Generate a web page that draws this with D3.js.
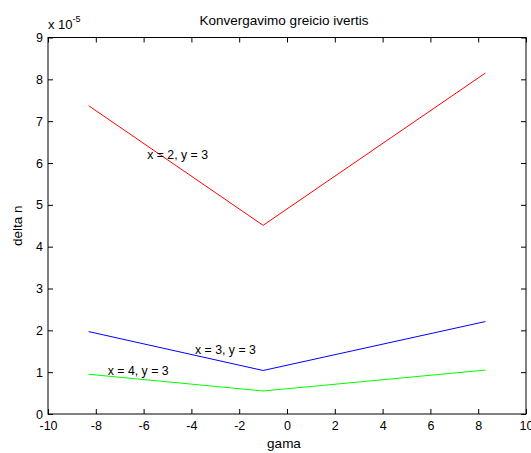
<!DOCTYPE html>
<html>
<head>
<meta charset="utf-8">
<script src="https://cdn.jsdelivr.net/npm/d3@7"></script>
<style>
  html, body { margin: 0; padding: 0; background: #fff; }
  svg { display: block; font-family: "Liberation Sans", Arial, sans-serif; }
</style>
</head>
<body>
<svg id="chart" width="531" height="453"></svg>
<script>
// gamma values and delta n (in units of 1e-5) for each (x, y) pair
const gama = [-8.3, -1.0, 8.3];
const seriesX2 = [7.37, 4.51, 8.15];
const seriesX3 = [1.97, 1.04, 2.21];
const seriesX4 = [0.95, 0.55, 1.05];
const seriesNames = ["x = 2, y = 3", "x = 3, y = 3", "x = 4, y = 3"];
const seriesColors = ["#ff0000", "#0000ff", "#00ff00"];
// label anchor points (gamma, delta n)
const labelX = [-5.85, -3.85, -7.5];
const labelY = [6.2, 1.53, 1.03];
const xTicks = [-10, -8, -6, -4, -2, 0, 2, 4, 6, 8, 10];
const yTicks = [0, 1, 2, 3, 4, 5, 6, 7, 8, 9];

const svg = d3.select("#chart");
const plotLeft = 48, plotRight = 526, plotTop = 37.5, plotBottom = 414;

const x = d3.scaleLinear().domain([-10, 10]).range([plotLeft, plotRight]);
const y = d3.scaleLinear().domain([0, 9]).range([plotBottom, plotTop]);

const tickLen = 5;
const plainNum = d => String(d);

// axes with inward ticks on all four sides
const gx = svg.append("g").attr("transform", `translate(0,${plotBottom})`)
  .call(d3.axisBottom(x).tickValues(xTicks).tickFormat(plainNum)
    .tickSizeInner(-tickLen).tickSizeOuter(0).tickPadding(7));
const gxTop = svg.append("g").attr("transform", `translate(0,${plotTop})`)
  .call(d3.axisTop(x).tickValues(xTicks).tickSizeInner(-tickLen).tickSizeOuter(0).tickFormat(""));
const gy = svg.append("g").attr("transform", `translate(${plotLeft},0)`)
  .call(d3.axisLeft(y).tickValues(yTicks).tickFormat(plainNum)
    .tickSizeInner(-tickLen).tickSizeOuter(0).tickPadding(5));
const gyRight = svg.append("g").attr("transform", `translate(${plotRight},0)`)
  .call(d3.axisRight(y).tickValues(yTicks).tickSizeInner(-tickLen).tickSizeOuter(0).tickFormat(""));

[gx, gxTop, gy, gyRight].forEach(g => {
  g.select(".domain").remove();
  g.selectAll(".tick line").attr("stroke", "#000");
  g.selectAll("text").attr("fill", "#000").attr("font-size", 12.5)
    .attr("font-family", "Liberation Sans, Arial, sans-serif");
});
gx.selectAll("text").attr("dy", "0.71em");
gy.selectAll("text").attr("dy", "0.32em");

// box
svg.append("rect")
  .attr("x", plotLeft).attr("y", plotTop)
  .attr("width", plotRight - plotLeft).attr("height", plotBottom - plotTop)
  .attr("fill", "none").attr("stroke", "#000").attr("stroke-width", 1);

// series lines
const line = d3.line().x((d, i) => x(gama[i])).y(d => y(d));
[seriesX2, seriesX3, seriesX4].forEach((s, k) => {
  svg.append("path").datum(s)
    .attr("d", line)
    .attr("fill", "none")
    .attr("stroke", seriesColors[k])
    .attr("stroke-width", 1);
});

// series labels
seriesNames.forEach((name, k) => {
  svg.append("text")
    .attr("x", x(labelX[k])).attr("y", y(labelY[k]))
    .attr("dy", "0.35em")
    .attr("font-size", 12.3)
    .attr("fill", "#000")
    .text(name);
});

// title and axis labels
svg.append("text").attr("x", 284).attr("y", 25)
  .attr("text-anchor", "middle").attr("font-size", 13.5).attr("fill", "#000")
  .text("Konvergavimo greicio ivertis");
svg.append("text").attr("x", 284).attr("y", 448)
  .attr("text-anchor", "middle").attr("font-size", 13.5).attr("fill", "#000")
  .text("gama");
svg.append("text")
  .attr("transform", `translate(22,${(plotTop + plotBottom) / 2}) rotate(-90)`)
  .attr("text-anchor", "middle").attr("font-size", 13.5).attr("fill", "#000")
  .text("delta n");

// exponent marker
const expo = svg.append("text").attr("x", plotLeft).attr("y", 29)
  .attr("font-size", 13).attr("fill", "#000");
expo.append("tspan").text("x 10");
expo.append("tspan").attr("dy", -7).attr("font-size", 9).text("-5");
</script>
</body>
</html>
